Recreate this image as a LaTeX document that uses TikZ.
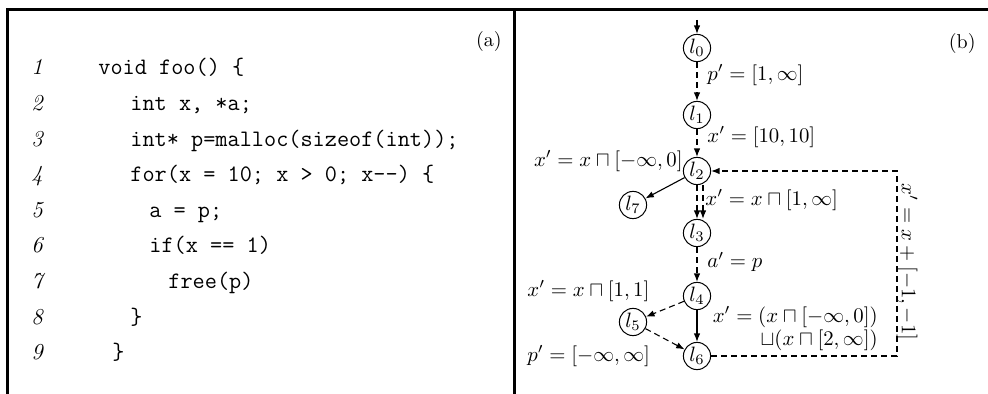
\RequirePackage{fix-cm}
\documentclass[tikz,border=0pt]{standalone}
\usetikzlibrary{arrows.meta}
\newcommand\codefont{\ttfamily\fontsize{11.8}{14}\selectfont}
\newcommand\numfont{\fontsize{11.4}{13}\selectfont\itshape}
\newcommand\mfont{\fontsize{10.4}{11.6}\selectfont}
\newcommand\tagfont{\fontsize{10}{12}\selectfont}
\begin{document}
\begin{tikzpicture}[x=0.5pt,y=-0.5pt,
  st/.style={circle,draw,line width=0.5pt,inner sep=0pt,minimum size=13.6pt,font=\mfont},
  lab/.style={inner sep=0pt,font=\mfont},
  code/.style={anchor=base west,inner sep=0pt,font=\codefont},
  num/.style={anchor=base,inner sep=0pt,font=\numfont},
  tag/.style={anchor=east,inner sep=0pt,font=\tagfont},
  edge/.style={line width=0.55pt,-{Latex[length=4.2pt,width=3.2pt]}},
  dedge/.style={edge,dash pattern=on 3pt off 2pt},
  frame/.style={line width=1.5pt}]
\useasboundingbox (0,0) rectangle (988,394);
% frame
\draw[frame] (7,394) -- (7,9.5) -- (988,9.5);
\draw[frame] (514.5,9.5) -- (514.5,394);
\node[tag] (pa) at (502,42) {(a)};
\node[tag] (pb) at (976,44) {(b)};
% code
\node[num] (n1) at (37,75) {1};
\node[num] (n2) at (37,110.6) {2};
\node[num] (n3) at (37,146.2) {3};
\node[num] (n4) at (37,181.8) {4};
\node[num] (n5) at (37,217.4) {5};
\node[num] (n6) at (37,253) {6};
\node[num] (n7) at (37,288.6) {7};
\node[num] (n8) at (37,324.2) {8};
\node[num] (n9) at (37,359.8) {9};
\node[code] (c1) at (98,75) {void foo() \{};
\node[code] (c2) at (130,110.6) {int x, *a;};
\node[code] (c3) at (130,146.2) {int* p=malloc(sizeof(int));};
\node[code] (c4) at (130,181.8) {for(x = 10; x > 0; x-{}-) \{};
\node[code] (c5) at (149,217.4) {a = p;};
\node[code] (c6) at (149,253) {if(x == 1)};
\node[code] (c7) at (168,288.6) {free(p)};
\node[code] (c8) at (130,324.2) {\}};
\node[code] (c9) at (112,359.8) {\}};
% graph nodes
\node[st] (l0) at (697,48) {$l_0$};
\node[st] (l1) at (697,115) {$l_1$};
\node[st] (l2) at (697,171) {$l_2$};
\node[st] (l7) at (633,205) {$l_7$};
\node[st] (l3) at (697,233) {$l_3$};
\node[st] (l4) at (697,296) {$l_4$};
\node[st] (l5) at (633,322) {$l_5$};
\node[st] (l6) at (697,356) {$l_6$};
\coordinate (start) at (697,20);
\coordinate (rx) at (897,0);
% edges
\draw[edge] (start) -- (l0);
\draw[dedge] (l0) -- (l1);
\draw[dedge] (l1) -- (l2);
\draw[edge] (l2) -- (l7);
\draw[dedge] (l2.south) -- (l3.north);
\draw[dedge] ([xshift=3pt]l2.south) -- ([xshift=3pt]l3.north);
\draw[dedge] (l3) -- (l4);
\draw[dedge] (l4) -- (l5);
\draw[edge] (l4) -- (l6);
\draw[dedge] (l5) -- (l6);
\draw[dedge] (l6) -- (l6 -| rx) -- (l2 -| rx) -- (l2);
% labels
\node[lab,anchor=west] (e01) at (707,75) {$p'=[1,\infty]$};
\node[lab,anchor=west] (e12) at (707,137) {$x'=[10,10]$};
\node[lab,anchor=east] (e27) at (683,161) {$x'=x\sqcap[-\infty,0]$};
\node[lab,anchor=west] (e23) at (705,200) {$x'=x\sqcap[1,\infty]$};
\node[lab,anchor=west] (e34) at (707,262) {$a'=p$};
\node[lab,anchor=west] (e45) at (527,291) {$x'=x\sqcap[1,1]$};
\node[lab,anchor=north east,align=right] (e46) at (878,306) {$x'=(x\sqcap[-\infty,0])$\\$\sqcup(x\sqcap[2,\infty])$};
\node[lab,anchor=west] (e56) at (527,356) {$p'=[-\infty,\infty]$};
\node[lab,rotate=-90] (e62) at (907,262) {$x'=x+[-1,-1]$};
\end{tikzpicture}
\end{document}
